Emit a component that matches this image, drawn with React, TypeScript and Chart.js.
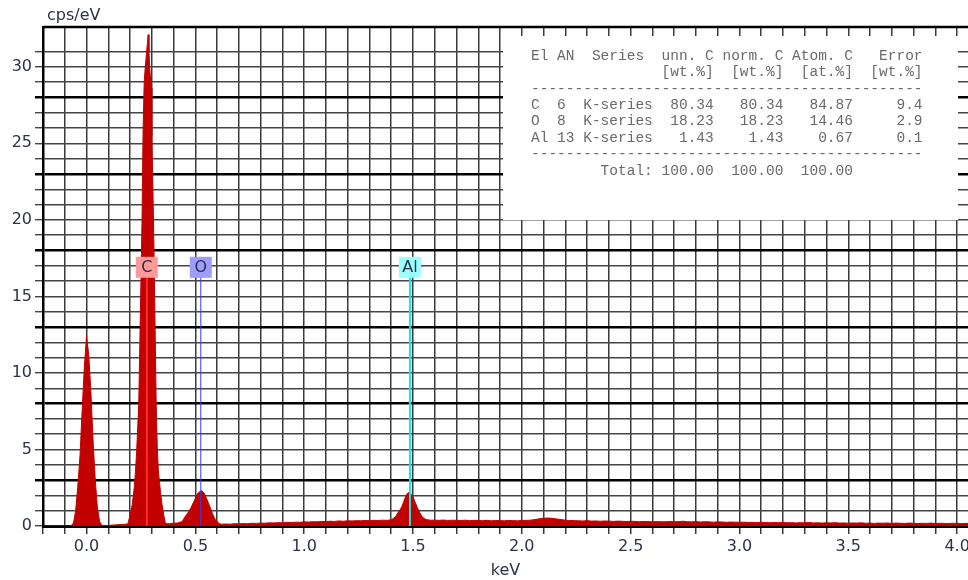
import React, { useEffect, useRef } from 'react';
import { Chart, registerables } from 'chart.js';

Chart.register(...registerables);

// ---- Spectrum data (keV, cps/eV) ----
const noisePeakKeV = [-0.2, -0.08, -0.07, -0.06, -0.05, -0.04, -0.03, -0.02, -0.01, 0.0, 0.01, 0.02, 0.03, 0.04, 0.05, 0.06, 0.07];
const noisePeakCps = [0, 0, 0.03, 0.2, 1.0, 2.6, 4.6, 7.6, 10.4, 12.4, 11.2, 8.8, 5.6, 3.0, 1.2, 0.3, 0.05];

const gapKeV = [0.08, 0.10, 0.12, 0.14, 0.16, 0.18];
const gapCps = [0.02, 0.03, 0.06, 0.08, 0.1, 0.12];

const carbonKeV = [0.19, 0.20, 0.21, 0.22, 0.225, 0.23, 0.24, 0.245, 0.25, 0.255, 0.26, 0.265, 0.27, 0.275, 0.28, 0.283, 0.287, 0.29, 0.297, 0.30, 0.305, 0.31, 0.315, 0.32, 0.325, 0.33, 0.34, 0.347, 0.355, 0.362, 0.37];
const carbonCps = [0.15, 0.7, 1.4, 2.6, 3.6, 4.8, 8.0, 12.0, 16.0, 20.0, 26.0, 29.0, 30.0, 30.8, 31.6, 32.1, 31.0, 30.0, 28.6, 25.5, 22.0, 18.0, 13.0, 8.0, 5.2, 3.6, 2.2, 1.4, 0.7, 0.2, 0.15];

const betweenKeV = [0.38, 0.40, 0.42, 0.43];
const betweenCps = [0.15, 0.18, 0.2, 0.25];

const oxygenKeV = [0.44, 0.45, 0.46, 0.47, 0.48, 0.49, 0.50, 0.51, 0.52, 0.53, 0.54, 0.55, 0.56, 0.57, 0.58, 0.59, 0.60, 0.61];
const oxygenCps = [0.3, 0.55, 0.75, 0.95, 1.2, 1.5, 1.8, 2.1, 2.25, 2.3, 2.15, 1.85, 1.5, 1.15, 0.75, 0.45, 0.3, 0.15];

const bg1KeV = [0.62, 0.64, 0.66, 0.68, 0.70, 0.72, 0.74, 0.76, 0.78, 0.80, 0.82, 0.84, 0.86, 0.88, 0.90, 0.92, 0.94, 0.96, 0.98, 1.00, 1.02, 1.04, 1.06, 1.08, 1.10, 1.12, 1.14, 1.16, 1.18, 1.20, 1.22, 1.24, 1.26, 1.28, 1.30, 1.32, 1.34, 1.36, 1.38];
const bg1Cps = [0.12, 0.13, 0.12, 0.15, 0.14, 0.16, 0.15, 0.18, 0.17, 0.19, 0.18, 0.21, 0.2, 0.22, 0.21, 0.24, 0.23, 0.25, 0.24, 0.27, 0.26, 0.28, 0.27, 0.3, 0.29, 0.31, 0.3, 0.33, 0.31, 0.34, 0.33, 0.35, 0.34, 0.36, 0.35, 0.37, 0.36, 0.38, 0.37];

const aluminiumKeV = [1.40, 1.42, 1.43, 1.44, 1.45, 1.46, 1.47, 1.48, 1.49, 1.50, 1.51, 1.52, 1.53, 1.54, 1.55, 1.56, 1.58];
const aluminiumCps = [0.4, 0.6, 0.85, 1.05, 1.3, 1.7, 2.05, 2.2, 2.1, 1.9, 1.55, 1.2, 0.9, 0.65, 0.5, 0.42, 0.38];

const bg2KeV = [1.60, 1.62, 1.64, 1.66, 1.68, 1.70, 1.72, 1.74, 1.76, 1.78, 1.80, 1.82, 1.84, 1.86, 1.88, 1.90, 1.92, 1.94, 1.96, 1.98, 2.00, 2.02];
const bg2Cps = [0.38, 0.37, 0.39, 0.36, 0.38, 0.37, 0.36, 0.38, 0.35, 0.37, 0.36, 0.35, 0.37, 0.34, 0.36, 0.35, 0.34, 0.36, 0.35, 0.34, 0.36, 0.37];

const bumpKeV = [2.04, 2.06, 2.08, 2.10, 2.12, 2.14, 2.16, 2.18, 2.20, 2.22];
const bumpCps = [0.38, 0.42, 0.47, 0.51, 0.52, 0.5, 0.46, 0.42, 0.38, 0.36];

const bg3KeV = [2.24, 2.26, 2.28, 2.30, 2.32, 2.34, 2.36, 2.38, 2.40, 2.42, 2.44, 2.46, 2.48, 2.50, 2.52, 2.54, 2.56, 2.58, 2.60];
const bg3Cps = [0.35, 0.34, 0.33, 0.35, 0.32, 0.33, 0.31, 0.33, 0.32, 0.30, 0.32, 0.31, 0.29, 0.31, 0.30, 0.28, 0.30, 0.29, 0.27];

const bg4KeV = [2.62, 2.64, 2.66, 2.68, 2.70, 2.72, 2.74, 2.76, 2.78, 2.80, 2.82, 2.84, 2.86, 2.88, 2.90, 2.92, 2.94, 2.96, 2.98, 3.00];
const bg4Cps = [0.29, 0.27, 0.28, 0.3, 0.27, 0.29, 0.31, 0.28, 0.27, 0.29, 0.26, 0.28, 0.27, 0.25, 0.27, 0.26, 0.24, 0.26, 0.25, 0.24];

const bg5KeV = [3.02, 3.04, 3.06, 3.08, 3.10, 3.12, 3.14, 3.16, 3.18, 3.20, 3.22, 3.24, 3.26, 3.28, 3.30, 3.32, 3.34, 3.36, 3.38, 3.40, 3.42, 3.44, 3.46, 3.48, 3.50, 3.52, 3.54, 3.56, 3.58, 3.60, 3.62, 3.64, 3.66, 3.68, 3.70, 3.72, 3.74, 3.76, 3.78, 3.80, 3.82, 3.84, 3.86, 3.88, 3.90, 3.92, 3.94, 3.96, 3.98, 4.00, 4.02, 4.04, 4.06];
const bg5Cps = [0.25, 0.23, 0.24, 0.22, 0.24, 0.23, 0.21, 0.23, 0.22, 0.24, 0.21, 0.22, 0.2, 0.22, 0.21, 0.23, 0.2, 0.21, 0.19, 0.21, 0.2, 0.22, 0.19, 0.2, 0.18, 0.2, 0.19, 0.21, 0.18, 0.19, 0.17, 0.19, 0.18, 0.2, 0.17, 0.19, 0.18, 0.17, 0.19, 0.18, 0.16, 0.18, 0.17, 0.19, 0.16, 0.18, 0.17, 0.16, 0.18, 0.17, 0.16, 0.17, 0.16];

// ---- Element line markers ----
const elementSymbols = ['C', 'O', 'Al'];
const elementLineKeV = [0.277, 0.525, 1.486];

// ---- Tick labels ----
const xTickLabels = ['0.0', '0.5', '1.0', '1.5', '2.0', '2.5', '3.0', '3.5', '4.0'];
const yTickLabels = ['0', '5', '10', '15', '20', '25', '30'];
const yBoldGridValues = [3, 8, 13, 18, 23, 28];

// ---- Quantification table ----
const tableLines = [
  'El AN  Series  unn. C norm. C Atom. C   Error',
  '               [wt.%]  [wt.%]  [at.%]  [wt.%]',
  '---------------------------------------------',
  'C  6  K-series  80.34   80.34   84.87     9.4',
  'O  8  K-series  18.23   18.23   14.46     2.9',
  'Al 13 K-series   1.43    1.43    0.67     0.1',
  '---------------------------------------------',
  '        Total: 100.00  100.00  100.00',
];

const segments: [number[], number[]][] = [
  [noisePeakKeV, noisePeakCps],
  [gapKeV, gapCps],
  [carbonKeV, carbonCps],
  [betweenKeV, betweenCps],
  [oxygenKeV, oxygenCps],
  [bg1KeV, bg1Cps],
  [aluminiumKeV, aluminiumCps],
  [bg2KeV, bg2Cps],
  [bumpKeV, bumpCps],
  [bg3KeV, bg3Cps],
  [bg4KeV, bg4Cps],
  [bg5KeV, bg5Cps],
];

const FONT = 'DejaVu Sans';
const TEXT_COLOR = '#2c3346';
const markerFill = ['#ff9a9a', '#9d9dff', '#9cffff'];
const markerLine = ['#ff2a2a', '#3a3aff', '#14e6f0'];
const markerLineWidth = [2, 1, 2];

const overlayPlugin = {
  id: 'edsOverlay',
  afterDatasetsDraw(chart: any) {
    const { ctx, chartArea, scales } = chart;
    const x = scales.x;
    const y = scales.y;
    ctx.save();
    // top frame line
    ctx.strokeStyle = '#000';
    ctx.lineWidth = 2.5;
    ctx.beginPath();
    ctx.moveTo(chartArea.left, chartArea.top);
    ctx.lineTo(chartArea.right, chartArea.top);
    ctx.stroke();

    // element markers
    const y0 = y.getPixelForValue(0);
    const yLabel = y.getPixelForValue(16.9);
    elementSymbols.forEach((sym, i) => {
      const px = x.getPixelForValue(elementLineKeV[i]);
      ctx.strokeStyle = markerLine[i];
      ctx.lineWidth = markerLineWidth[i];
      ctx.beginPath();
      ctx.moveTo(px, y0);
      ctx.lineTo(px, yLabel);
      ctx.stroke();
      const w = 22;
      const h = 21;
      ctx.fillStyle = markerFill[i];
      ctx.fillRect(px - w / 2, yLabel - h / 2, w, h);
      ctx.fillStyle = '#2a2f4a';
      ctx.font = `16px "${FONT}"`;
      ctx.textAlign = 'center';
      ctx.textBaseline = 'middle';
      ctx.fillText(sym, px, yLabel + 1);
    });

    // table box
    ctx.fillStyle = '#ffffff';
    ctx.fillRect(503, 36, 455, 184);
    ctx.fillStyle = '#6a6a6a';
    ctx.font = '14.5px "Liberation Mono"';
    ctx.textAlign = 'left';
    ctx.textBaseline = 'middle';
    tableLines.forEach((line, i) => {
      ctx.fillText(line, 531, 56 + i * 16.4);
    });
    ctx.restore();
  },
  afterDraw(chart: any) {
    const { ctx } = chart;
    ctx.save();
    ctx.fillStyle = TEXT_COLOR;
    ctx.font = `16px "${FONT}"`;
    ctx.textAlign = 'left';
    ctx.textBaseline = 'middle';
    ctx.fillText('cps/eV', 47, 16);
    ctx.restore();
  },
};

export default function App() {
  const canvasRef = useRef<HTMLCanvasElement | null>(null);

  useEffect(() => {
    document.body.style.margin = '0';
    const canvas = canvasRef.current;
    if (!canvas) return;

    const points: { x: number; y: number }[] = [];
    segments.forEach(([ks, cs]) => {
      const n = Math.min(ks.length, cs.length);
      for (let i = 0; i < n; i++) points.push({ x: ks[i], y: cs[i] });
    });

    const xGrid: number[] = [];
    for (let k = -2; k <= 40; k++) xGrid.push(Math.round(k * 10) / 100);
    const yGrid: number[] = [];
    for (let k = 0; k <= 31; k++) yGrid.push(k);

    const isBold = (v: number) => yBoldGridValues.includes(v);

    const chart = new Chart(canvas, {
      type: 'line',
      data: {
        datasets: [
          {
            data: points,
            borderColor: '#c20000',
            backgroundColor: '#c20000',
            borderWidth: 1,
            pointRadius: 0,
            tension: 0,
            fill: 'origin',
          },
        ],
      },
      options: {
        animation: false,
        responsive: false,
        devicePixelRatio: 1,
        layout: { padding: { top: 27, left: 0, right: 0, bottom: 0 } },
        plugins: {
          legend: { display: false },
          tooltip: { enabled: false },
        },
        scales: {
          x: {
            type: 'linear',
            min: -0.2,
            max: 4.05,
            afterBuildTicks: (s: any) => {
              s.ticks = xGrid.map((v) => ({ value: v }));
            },
            afterFit: (s: any) => {
              s.height = 54;
              s.paddingLeft = 0;
              s.paddingRight = 0;
            },
            ticks: {
              autoSkip: false,
              maxRotation: 0,
              minRotation: 0,
              padding: 3,
              color: TEXT_COLOR,
              font: { family: FONT, size: 16 },
              callback: (v: any) => {
                const lbl = xTickLabels.find((l) => Math.abs(parseFloat(l) - Number(v)) < 1e-6);
                return lbl ?? '';
              },
            },
            grid: {
              color: '#3a3a3a',
              lineWidth: 1.5,
              tickLength: 8,
              tickColor: '#3a3a3a',
            },
            border: { color: '#000', width: 3 },
            title: {
              display: true,
              text: 'keV',
              color: TEXT_COLOR,
              font: { family: FONT, size: 16 },
              padding: { top: 0, bottom: 0 },
            },
          },
          y: {
            type: 'linear',
            min: 0,
            max: 32.6,
            afterBuildTicks: (s: any) => {
              s.ticks = yGrid.map((v) => ({ value: v }));
            },
            afterFit: (s: any) => {
              s.width = 43;
              s.paddingTop = 0;
              s.paddingBottom = 0;
            },
            ticks: {
              autoSkip: false,
              padding: 3,
              color: TEXT_COLOR,
              font: { family: FONT, size: 16 },
              callback: (v: any) => {
                const lbl = yTickLabels.find((l) => Number(l) === Number(v));
                return lbl ?? '';
              },
            },
            grid: {
              color: (c: any) => (c.tick && isBold(c.tick.value) ? '#000' : '#454545'),
              lineWidth: (c: any) => (c.tick && isBold(c.tick.value) ? 2.5 : 1.4),
              tickLength: 8,
            },
            border: { color: '#000', width: 2.5 },
          },
        },
      },
      plugins: [overlayPlugin],
    } as any);

    return () => chart.destroy();
  }, []);

  return (
    <div style={{ width: 968, height: 580 }}>
      <canvas ref={canvasRef} width={968} height={580} style={{ display: 'block' }} />
    </div>
  );
}
